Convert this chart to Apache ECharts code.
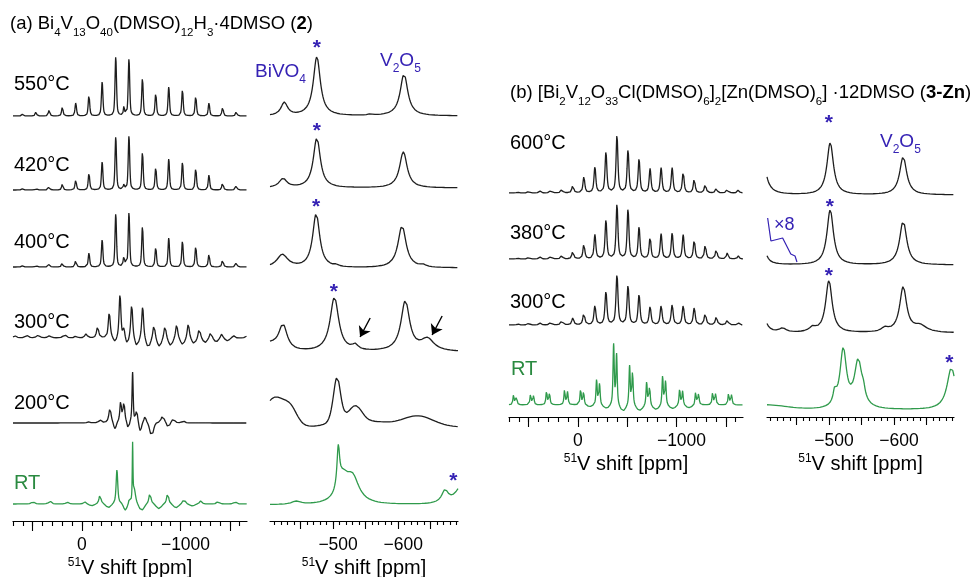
<!DOCTYPE html>
<html>
<head>
<meta charset="utf-8">
<script src="https://cdn.jsdelivr.net/npm/echarts@6/dist/echarts.min.js"></script>
<style>
  html, body { margin: 0; padding: 0; background: #fff; }
  #chart { width: 971px; height: 577px; }
</style>
</head>
<body>
<div id="chart"></div>
<script>
// peaks: [shift (ppm), height, half width (ppm), lorentz fraction (optional)]
// negative heights are the dips of the baseline

// (a) full spectra
const a550Wide = [[601,2,9],[467,4,9],[333,6,9],[199,9,9],[63,13,9],[-71,21,9],[-205,34,9],[-343,59,9],[-426,9,7],[-477,57,9],[-614,38,9],[-749,23,9],[-881,29,9],[-1020,26,9],[-1155,20,9],[-1289,13,9],[-1428,9,9],[-1568,5,9]];
const a420Wide = [[601,1.5,9],[467,2,9],[333,4,9],[199,6,9],[63,10,9],[-71,17,9],[-205,28,9],[-343,53,9],[-426,5,8],[-477,54,9],[-614,38,9],[-749,23,9],[-881,31,9],[-1020,28,9],[-1155,22,9],[-1289,15,9],[-1428,8,9],[-1568,5,9]];
const a400Wide = [[601,1.5,9],[467,2,9],[333,3,9],[199,5,9],[63,7,9],[-71,14,9],[-205,27,9],[-343,53,9],[-426,10,9],[-477,54,9],[-614,41,9],[-749,20,9],[-881,29,9],[-1020,26,9],[-1155,21,9],[-1289,13,9],[-1428,8,9],[-1568,5,9]];
const a300Wide = [[680,2,20],[560,2.5,20],[445,2.5,20],[330,2,20],[175,3,20],[61,2,14],[-41,4,14],[-159,11,13],[-277,25,12],[-386,43,11],[-426,8,8],[-505,33,11],[-616,31,11],[-731,13,12],[-843,12,12],[-961,13,12],[-1079,14,12],[-1191,10,12],[-1307,6,12],[-1418,4,12],[-1536,2.5,12],[-1665,2,12],
  [-335,-5,18,0],[-460,-7,15,0],[-558,-9,22,0],[-673,-10,25,0],[-785,-9,25,0],[-900,-8,25,0],[-1022,-7,25,0],[-1137,-6,25,0],[-1249,-5,25,0],[-1362,-4,25,0],[-1475,-3,25,0]];
const a200Wide = [[-71,1,15],[-183,3,15],[-284,14,14],[-393,21,10],[-426,20,10],[-514,50,7],[-555,12,10],[-640,6,12],[-819,8,15],[-927,4,15],[-1029,2,15],
  [-335,-7,15,0],[-470,-7,12,0],[-592,-9,14,0],[-707,-13,22,0],[-876,-5,15,0]];
const aRTWide = [[497,2.5,15],[325,3,15],[152,2,15],[-30,2,15],[-183,9,12],[-355,34,10],[-480,4,6],[-514,55,4],[-530,14,16],[-690,11,12],[-870,11,12],[-1035,5,14],[-1205,3,14],[-1381,2.5,14],[-1553,2.5,14],
  [-100,-2,30,0],[-270,-4,30,0],[-440,-7,20,0],[-605,-7,30,0],[-780,-5,30,0],[-955,-4,30,0],[-1120,-2,30,0]];

// (a) central region
const a550Narrow = [[-425,13,6],[-475,59,6.5],[-557,1,5],[-609,42,7]];
const a420Narrow = [[-423,9,7],[-475,50,6.5],[-608,36,7]];
const a400Narrow = [[-422,13,10],[-474,54,6.5],[-505,1.5,4],[-606,42,7.5],[-638,2,5]];
const a300Narrow = [[-400,7,15,0],[-423,26,8],[-502,54,8],[-534,5,5],[-611,50,8],[-645,12,12]];
const a200Narrow = [[-410,29,18,0],[-435,15,12,0],[-506,49,7,0.5],[-534,17,12,0],[-560,5,30,0],[-630,11,28,0]];
const aRTNarrow = [[-443,3,8],[-508,40,2.5],[-515,22,10],[-530,25,12],[-672,12,6],[-700,22,12]];

// (b) full spectra
const b600Wide = [[612,1,11],[500,2,11],[388,2,11],[276,3,11],[164,4,11],[52,8,11],[-60,16,11],[-172,26,11],[-284,41,11],[-396,58,11],[-508,43,11],[-620,34,11],[-732,24,11],[-844,25,11],[-956,25,11],[-1068,21,11],[-1180,14,11],[-1292,9,11],[-1404,5,11],[-1516,4,11],[-1628,3,11]];
const b380Wide = [[612,1,11],[500,2,11],[388,2,11],[276,3,11],[164,4,11],[52,8,11],[-60,15,11],[-172,24,11],[-284,39,11],[-396,55,11],[-508,50,11],[-620,32,11],[-732,22,11],[-844,25,11],[-956,26,11],[-1068,24,11],[-1180,19,11],[-1292,14,11],[-1404,10,11],[-1516,6,11],[-1628,3,11]];
const b300Wide = [[612,1,12],[500,2,12],[388,2,12],[276,3,12],[164,5,12],[52,7,12],[-60,12,12],[-172,19,12],[-284,33,12],[-396,50,12],[-508,39,12],[-620,30,12],[-732,18,12],[-844,19,12],[-956,20,12],[-1068,19,12],[-1180,17,12],[-1292,12,12],[-1404,8,12],[-1516,5,12],[-1628,2,12]];
const bRTWide = [[654,10,7.5],[624,8.5,7.5],[481,11,7.5],[451,9,7.5],[319,14,7.5],[289,12,7.5],[136,15,7.5],[106,13,7.5],[-27,16,7.5],[-57,13.5,7.5],[-189,25,7.5],[-219,21,7.5],[-362,60,7.5],[-392,50,7.5],[-524,39,7.5],[-554,33,7.5],[-697,23,7.5],[-727,19,7.5],[-859,29,7.5],[-889,24,7.5],[-1032,16,7.5],[-1062,14,7.5],[-1194,13,7.5],[-1224,11,7.5],[-1367,13,7.5],[-1397,11,7.5],[-1529,12,7.5],[-1559,10,7.5],
  [-120,-2,40,0],[-290,-4,40,0],[-457,-7,35,0],[-625,-6,40,0],[-792,-5,40,0],[-960,-4,40,0],[-1127,-3,40,0]];

// (b) central region
const b600Narrow = [[-396,58,6],[-502,52,6],[-614,38,6.5]];
const b380Narrow = [[-396,55,4],[-502,55,6],[-614,44,6.5]];
const b300Narrow = [[-396,50,4.2],[-429,4,6],[-475,4.5,6],[-500,52,6],[-586,4,6],[-614,45,6.5],[-640,6.5,12]];
const bRTNarrow = [[-400,5,40,0],[-509,12,3],[-522,58,6],[-545,47,7],[-553,8,3],[-688,42,8]];
// x8 expansion of the 380 °C baseline
const b380Inset = [[-406,47],[-411,24],[-429,27],[-441.5,11],[-448,9],[-451,3]];

// star marks [shift, height]
const starsA = {s550: [[-475,73]], s420: [[-475,62]], s400: [[-474,66]], s300: [[-501,65]], sRT: [[-685,29]]};
const starsB = {s600: [[-500,77]], s380: [[-501.5,63]], s300: [[-500,62]], sRT: [[-685,52]]};
// arrows at the shoulders of the 300 °C trace [from, to]
const arrows300 = [[[-557,34],[-541.5,15]], [[-667.6,36],[-652.2,17]]];

// axis ticks
const wideMinorTicks = [700,600,500,400,300,200,100,0,-100,-200,-300,-400,-500,-600,-700,-800,-900,-1000,-1100,-1200,-1300,-1400,-1500,-1600];
const wideMajorTicks = [500,0,-500,-1000,-1500];
const wideTickLabels = [0,-1000];
const narrowMinorTicks = [-410,-420,-430,-440,-450,-460,-470,-480,-490,-500,-510,-520,-530,-540,-550,-560,-570,-580,-590,-600,-610,-620,-630,-640,-650,-660,-670,-680,-690];
const narrowMajorTicks = [-450,-500,-550,-600,-650];
const narrowTickLabels = [-500,-600];

const BLACK = '#1e1e1e';
const GREEN = '#2f9a4b';
const GREEN_TEXT = '#2a8a40';
const BLUE = '#3522b4';
const FONT = '"Liberation Sans", Arial, Helvetica, sans-serif';

const columns = {
  aWide:   {left: 13,  width: 234, min: -1675, max: 700,  step: 2,   axisY: 521},
  aNarrow: {left: 270, width: 188, min: -692,  max: -403, step: 0.5, axisY: 521},
  bWide:   {left: 509, width: 234, min: -1675, max: 700,  step: 2,   axisY: 417},
  bNarrow: {left: 767, width: 187, min: -692,  max: -405, step: 0.5, axisY: 417}
};

function spectrum(peaks, col, mix) {
  const c = columns[col];
  const pts = [];
  for (let x = c.max; x >= c.min - 1e-9; x -= c.step) {
    let y = 0;
    peaks.forEach(p => {
      const d = (x - p[0]) / p[2];
      const eta = p.length > 3 ? p[3] : mix;
      y += p[1] * (eta / (1 + d * d) + (1 - eta) * Math.exp(-Math.LN2 * d * d));
    });
    pts.push([+x.toFixed(2), +y.toFixed(3)]);
  }
  return pts;
}

const traces = [
  {col: 'aWide', base: 116, peaks: a550Wide, mix: 0.5},
  {col: 'aWide', base: 190, peaks: a420Wide, mix: 0.5},
  {col: 'aWide', base: 267, peaks: a400Wide, mix: 0.5},
  {col: 'aWide', base: 338, peaks: a300Wide, mix: 0.6},
  {col: 'aWide', base: 423, peaks: a200Wide, mix: 0.7},
  {col: 'aWide', base: 504, peaks: aRTWide, mix: 0.7, color: GREEN},
  {col: 'aNarrow', base: 116, peaks: a550Narrow, mix: 1, stars: starsA.s550},
  {col: 'aNarrow', base: 188, peaks: a420Narrow, mix: 1, stars: starsA.s420},
  {col: 'aNarrow', base: 268, peaks: a400Narrow, mix: 1, stars: starsA.s400},
  {col: 'aNarrow', base: 352, peaks: a300Narrow, mix: 1, stars: starsA.s300, arrows: arrows300},
  {col: 'aNarrow', base: 427, peaks: a200Narrow, mix: 1},
  {col: 'aNarrow', base: 505, peaks: aRTNarrow, mix: 1, stars: starsA.sRT, color: GREEN},
  {col: 'bWide', base: 193, peaks: b600Wide, mix: 0.7},
  {col: 'bWide', base: 259, peaks: b380Wide, mix: 0.7},
  {col: 'bWide', base: 325, peaks: b300Wide, mix: 0.7},
  {col: 'bWide', base: 405, peaks: bRTWide, mix: 0.7, color: GREEN},
  {col: 'bNarrow', base: 195, peaks: b600Narrow, mix: 1, stars: starsB.s600},
  {col: 'bNarrow', base: 265, peaks: b380Narrow, mix: 1, stars: starsB.s380, inset: b380Inset},
  {col: 'bNarrow', base: 333, peaks: b300Narrow, mix: 1, stars: starsB.s300},
  {col: 'bNarrow', base: 410, peaks: bRTNarrow, mix: 1, stars: starsB.sRT, color: GREEN}
];

const grid = [], xAxis = [], yAxis = [], series = [];

function makeGrid(col, top, height, yMin, yMax) {
  const c = columns[col];
  grid.push({left: c.left, width: c.width, top: top, height: height, containLabel: false, outerBoundsMode: 'none'});
  const gi = grid.length - 1;
  yAxis.push({gridIndex: gi, type: 'value', min: yMin, max: yMax, show: false});
  return gi;
}

traces.forEach(t => {
  const c = columns[t.col];
  const gi = makeGrid(t.col, t.base - 90, 110, -20, 90);
  xAxis.push({gridIndex: gi, type: 'value', min: c.min, max: c.max, inverse: true, show: false});
  const xi = xAxis.length - 1;
  const s = {
    type: 'line', xAxisIndex: xi, yAxisIndex: gi,
    data: spectrum(t.peaks, t.col, t.mix),
    symbol: 'none', clip: false, silent: true, animation: false,
    lineStyle: {color: t.color || BLACK, width: 1.3}
  };
  if (t.stars) {
    s.markPoint = {
      symbol: 'circle', symbolSize: 0, silent: true, animation: false,
      label: {show: true, formatter: '*', color: BLUE, fontSize: 21, fontWeight: 'bold', fontFamily: FONT, offset: [0, 5]},
      data: t.stars.map(p => ({coord: p}))
    };
  }
  if (t.arrows) {
    s.markLine = {
      symbol: ['none', 'arrow'], symbolSize: 10, silent: true, animation: false,
      label: {show: false},
      lineStyle: {color: '#000', width: 1.4, type: 'solid'},
      data: t.arrows.map(a => [{coord: a[0]}, {coord: a[1]}])
    };
  }
  series.push(s);
  if (t.inset) {
    series.push({
      type: 'line', xAxisIndex: xi, yAxisIndex: gi, data: t.inset,
      symbol: 'none', clip: false, silent: true, animation: false,
      lineStyle: {color: BLUE, width: 1.2}
    });
  }
});

function makeAxis(col) {
  const c = columns[col];
  const wide = col.endsWith('Wide');
  const gi = makeGrid(col, c.axisY - 10, 10, 0, 1);
  const common = {
    gridIndex: gi, type: 'value', min: c.min, max: c.max, inverse: true, position: 'bottom',
    splitLine: {show: false}
  };
  xAxis.push(Object.assign({}, common, {
    axisLine: {show: true, onZero: false, lineStyle: {color: '#000', width: 1.2}},
    axisTick: {show: true, length: wide ? 5 : 4, customValues: wide ? wideMinorTicks : narrowMinorTicks, lineStyle: {color: '#000', width: 1.1}},
    axisLabel: {show: false}
  }));
  xAxis.push(Object.assign({}, common, {
    axisLine: {show: false, onZero: false},
    axisTick: {show: true, length: wide ? 10 : 8, customValues: wide ? wideMajorTicks : narrowMajorTicks, lineStyle: {color: '#000', width: 1.1}},
    axisLabel: {
      show: true, customValues: wide ? wideTickLabels : narrowTickLabels, margin: 15,
      color: '#000', fontSize: 17.5, fontFamily: FONT,
      formatter: v => v === 0 ? '0' : '{n|\u2212' + Math.abs(v) + '}',
      rich: {n: {fontSize: 17.5, fontFamily: FONT, color: '#000', padding: [0, 0, 0, 10]}}
    },
    name: '{sup|51}V shift [ppm]', nameLocation: 'middle', nameGap: 36,
    nameTextStyle: {
      color: '#000', fontSize: 20, fontFamily: FONT, lineHeight: 22,
      rich: {sup: {fontSize: 12, fontFamily: FONT, color: '#000', verticalAlign: 'top'}}
    }
  }));
}
['aWide', 'aNarrow', 'bWide', 'bNarrow'].forEach(makeAxis);

// text annotations
const subRich = {
  s: {fontSize: 11.5, fontFamily: FONT, fill: '#000', verticalAlign: 'bottom'},
  b: {fontSize: 18.5, fontFamily: FONT, fill: '#000', fontWeight: 'bold'}
};
const blueRich = {s: {fontSize: 12, fontFamily: FONT, fill: BLUE, verticalAlign: 'bottom'}};

function label(text, x, y, opts) {
  return {
    type: 'text', x: x, y: y, silent: true,
    style: Object.assign({text: text, fontSize: 20, fontFamily: FONT, fill: '#000', align: 'left', verticalAlign: 'middle'}, opts || {})
  };
}

const graphic = [
  label('(a) Bi{s|4}V{s|13}O{s|40}(DMSO){s|12}H{s|3}\u00b74DMSO ({b|2})', 10, 24, {fontSize: 18.5, lineHeight: 30, rich: subRich}),
  label('(b) [Bi{s|2}V{s|12}O{s|33}Cl(DMSO){s|6}]{s|2}[Zn(DMSO){s|6}] \u00b712DMSO ({b|3-Zn})', 510, 93, {fontSize: 18.5, lineHeight: 30, rich: subRich}),
  label('550\u00b0C', 14, 84),
  label('420\u00b0C', 14, 165),
  label('400\u00b0C', 14, 242),
  label('300\u00b0C', 14, 322),
  label('200\u00b0C', 14, 403),
  label('RT', 14, 483, {fill: GREEN_TEXT}),
  label('600\u00b0C', 510, 143),
  label('380\u00b0C', 510, 233),
  label('300\u00b0C', 510, 302),
  label('RT', 511, 369, {fill: GREEN_TEXT}),
  label('BiVO{s|4}', 255, 72, {fontSize: 19, fill: BLUE, lineHeight: 28, rich: blueRich}),
  label('V{s|2}O{s|5}', 380, 61, {fontSize: 19, fill: BLUE, lineHeight: 28, rich: blueRich}),
  label('V{s|2}O{s|5}', 880, 142, {fontSize: 19, fill: BLUE, lineHeight: 28, rich: blueRich}),
  label('\u00d78', 774, 225, {fontSize: 18, fill: BLUE})
];

const chart = echarts.init(document.getElementById('chart'), null, {renderer: 'canvas'});
chart.setOption({
  animation: false,
  backgroundColor: '#fff',
  grid: grid,
  xAxis: xAxis,
  yAxis: yAxis,
  series: series,
  graphic: graphic
});
</script>
</body>
</html>
